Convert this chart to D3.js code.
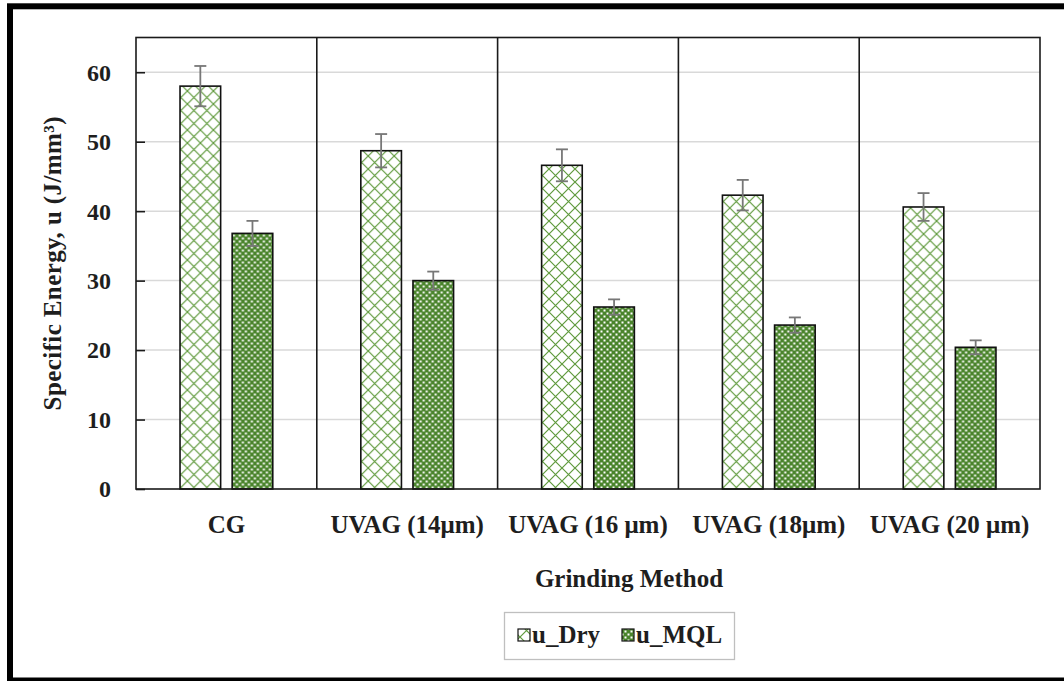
<!DOCTYPE html>
<html>
<head>
<meta charset="utf-8">
<script src="https://cdn.jsdelivr.net/npm/d3@7"></script>
<style>
  body { margin: 0; background: #fff; }
  svg { display: block; }
  text { font-family: "Liberation Serif", "Times New Roman", serif; font-weight: bold; fill: #1e1e1e; }
</style>
</head>
<body>
<svg id="chart" width="1064" height="681"></svg>
<script>
// data
const categories = ['CG', 'UVAG (14μm)', 'UVAG (16 μm)', 'UVAG (18μm)', 'UVAG (20 μm)']
const series = ['u_Dry', 'u_MQL']
const dry_values = [58.0, 48.7, 46.6, 42.3, 40.6]
const dry_errors = [2.9, 2.4, 2.3, 2.2, 2.0]
const mql_values = [36.8, 30.0, 26.2, 23.6, 20.4]
const mql_errors = [1.8, 1.3, 1.1, 1.1, 1.0]
const y_ticks = [0, 10, 20, 30, 40, 50, 60]

const svg = d3.select('#chart')
const margin = ({ top: 37.5, right: 24, bottom: 192, left: 136 })
const width = 1064, height = 681

// outer frame of the chart area (its right edge is cut off in the picture)
svg.append('rect')
    .attr('x', 10).attr('y', 6.3)
    .attr('width', 1100).attr('height', 674.2)
    .attr('fill', 'none')
    .attr('stroke', '#000')
    .attr('stroke-width', 6)

const x0 = d3.scaleBand()
    .domain(categories)
    .range([margin.left, width - margin.right])
    .padding(0)
const groupW = x0.bandwidth() * 0.513
const x1 = d3.scaleBand()
    .domain(series)
    .range([-groupW / 2, groupW / 2])
    .paddingInner(0.221)
const y = d3.scaleLinear()
    .domain([0, 65])
    .range([height - margin.bottom, margin.top])

// patterns
const defs = svg.append('defs')
const P = 13
const dry = defs.append('pattern')
    .attr('id', 'pat-dry')
    .attr('patternUnits', 'userSpaceOnUse')
    .attr('width', P).attr('height', P)
dry.append('rect').attr('width', P).attr('height', P).attr('fill', '#fff')
dry.append('path')
    .attr('d', `M0,0L${P},${P}M${P},0L0,${P}`)
    .attr('stroke', '#5f9a3c')
    .attr('stroke-width', 1.2)

const mql = defs.append('pattern')
    .attr('id', 'pat-mql')
    .attr('patternUnits', 'userSpaceOnUse')
    .attr('width', 6).attr('height', 6)
mql.append('rect').attr('width', 6).attr('height', 6).attr('fill', '#4a842c')
mql.append('rect').attr('x', 0.5).attr('y', 0.5).attr('width', 2).attr('height', 2).attr('fill', '#fff')
mql.append('rect').attr('x', 3.5).attr('y', 3.5).attr('width', 2).attr('height', 2).attr('fill', '#fff')

const fills = { u_Dry: 'url(#pat-dry)', u_MQL: 'url(#pat-mql)' }

// gridlines
svg.append('g')
    .selectAll('line')
    .data(y_ticks.filter(d => d > 0))
    .join('line')
    .attr('x1', margin.left).attr('x2', width - margin.right)
    .attr('y1', d => y(d)).attr('y2', d => y(d))
    .attr('stroke', '#d9d9d9')
    .attr('stroke-width', 1.5)

// category separators
svg.append('g')
    .selectAll('line')
    .data(categories.slice(1))
    .join('line')
    .attr('x1', d => x0(d)).attr('x2', d => x0(d))
    .attr('y1', y(65)).attr('y2', y(0))
    .attr('stroke', '#1a1a1a')
    .attr('stroke-width', 1.6)

// bars
const rows = categories.map((c, i) => ({
    category: c,
    bars: [
        { key: 'u_Dry', value: dry_values[i], err: dry_errors[i] },
        { key: 'u_MQL', value: mql_values[i], err: mql_errors[i] }
    ]
}))

const groups = svg.append('g')
    .selectAll('g')
    .data(rows)
    .join('g')
    .attr('transform', d => `translate(${x0(d.category) + x0.bandwidth() / 2},0)`)

groups.selectAll('rect')
    .data(d => d.bars)
    .join('rect')
    .attr('x', d => x1(d.key))
    .attr('width', x1.bandwidth())
    .attr('y', d => y(d.value))
    .attr('height', d => y(0) - y(d.value))
    .attr('fill', d => fills[d.key])
    .attr('stroke', '#111')
    .attr('stroke-width', 1.6)

// error bars
const errs = groups.selectAll('g.err')
    .data(d => d.bars)
    .join('g')
    .attr('class', 'err')
    .attr('stroke', '#777')
    .attr('stroke-width', 1.8)
errs.append('line')
    .attr('x1', d => x1(d.key) + x1.bandwidth() / 2)
    .attr('x2', d => x1(d.key) + x1.bandwidth() / 2)
    .attr('y1', d => y(d.value + d.err))
    .attr('y2', d => y(d.value - d.err))
errs.selectAll('line.cap')
    .data(d => [[d, d.value + d.err], [d, d.value - d.err]])
    .join('line')
    .attr('class', 'cap')
    .attr('x1', d => x1(d[0].key) + x1.bandwidth() / 2 - 6)
    .attr('x2', d => x1(d[0].key) + x1.bandwidth() / 2 + 6)
    .attr('y1', d => y(d[1]))
    .attr('y2', d => y(d[1]))

// plot frame
svg.append('rect')
    .attr('x', margin.left).attr('y', y(65))
    .attr('width', width - margin.right - margin.left)
    .attr('height', y(0) - y(65))
    .attr('fill', 'none')
    .attr('stroke', '#1a1a1a')
    .attr('stroke-width', 1.6)

// y axis (inside ticks)
const yAxis = g => g
    .attr('transform', `translate(${margin.left},0)`)
    .call(d3.axisRight(y).tickValues(y_ticks).tickSize(9).tickFormat(''))
    .call(g => g.select('.domain').remove())
    .call(g => g.selectAll('.tick line').attr('stroke', '#1a1a1a').attr('stroke-width', 1.6))
svg.append('g').call(yAxis)

svg.append('g')
    .selectAll('text')
    .data(y_ticks)
    .join('text')
    .attr('x', 111)
    .attr('y', d => y(d))
    .attr('dy', '0.35em')
    .attr('text-anchor', 'end')
    .style('font-size', '24px')
    .text(d => d)

// category labels
svg.append('g')
    .selectAll('text')
    .data(categories)
    .join('text')
    .attr('x', d => x0(d) + x0.bandwidth() / 2)
    .attr('y', 533)
    .attr('text-anchor', 'middle')
    .style('font-size', '25px')
    .text(d => d)

// axis titles
svg.append('text')
    .attr('x', 629).attr('y', 587)
    .attr('text-anchor', 'middle')
    .style('font-size', '25px')
    .text('Grinding Method')

svg.append('text')
    .attr('transform', `translate(61,${(y(0) + y(65)) / 2}) rotate(-90)`)
    .attr('text-anchor', 'middle')
    .style('font-size', '25px')
    .style('letter-spacing', '0.4px')
    .text('Specific Energy, u (J/mm³)')

// legend
const legend = svg.append('g')
legend.append('rect')
    .attr('x', 504.5).attr('y', 612.5)
    .attr('width', 230).attr('height', 47)
    .attr('fill', '#fff')
    .attr('stroke', '#bfbfbf')
    .attr('stroke-width', 1.3)
const legendX = [518, 622]
series.forEach((s, i) => {
    legend.append('rect')
        .attr('x', legendX[i]).attr('y', 629)
        .attr('width', 12).attr('height', 12)
        .attr('fill', fills[s])
        .attr('stroke', '#111')
        .attr('stroke-width', 1.2)
    legend.append('text')
        .attr('x', legendX[i] + 14).attr('y', 643)
        .style('font-size', '25px')
        .text(s)
})
</script>
</body>
</html>
